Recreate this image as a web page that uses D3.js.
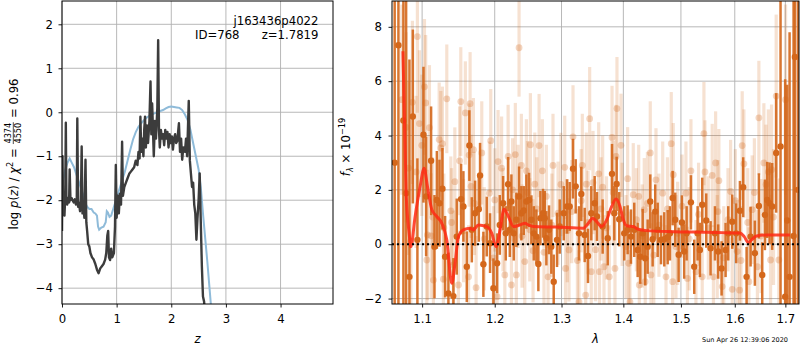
<!DOCTYPE html>
<html>
<head>
<meta charset="utf-8">
<script src="https://cdn.jsdelivr.net/npm/d3@7"></script>
<style>
  body { margin: 0; background: #fff; }
  svg { font-family: "DejaVu Sans", sans-serif; }
  .axis text { font-size: 11.7px; fill: #000; font-family: "DejaVu Sans", sans-serif; }
  .axis line { stroke: #000; stroke-width: 0.9; }
  .axis path { display: none; }
  .grid line { stroke: #b0b0b0; stroke-width: 0.9; }
</style>
</head>
<body>
<svg id="chart" width="800" height="350"></svg>
<script>
// ---- p(z) panel ----
const zTicks = [0, 1, 2, 3, 4];
const pzTicks = [-4, -3, -2, -1, 0, 1, 2];

// log p(z) (dark curve)
const pzZ = [0.000, 0.010, 0.020, 0.030, 0.045, 0.060, 0.070, 0.080, 0.095, 0.110, 0.130, 0.140, 0.155, 0.175, 0.195, 0.215, 0.235, 0.255, 0.270, 0.280,
  0.295, 0.310, 0.330, 0.345, 0.360, 0.375, 0.390, 0.410, 0.430, 0.445, 0.460, 0.480, 0.500, 0.520, 0.550, 0.580, 0.610, 0.640, 0.670, 0.700,
  0.730, 0.760, 0.790, 0.810, 0.830, 0.845, 0.860, 0.880, 0.900, 0.920, 0.950, 0.970, 0.985, 1.000, 1.020, 1.040, 1.060, 1.080, 1.100, 1.115,
  1.140, 1.170, 1.200, 1.230, 1.260, 1.290, 1.320, 1.350, 1.380, 1.400, 1.420, 1.435, 1.450, 1.470, 1.490, 1.505, 1.520, 1.535, 1.555, 1.575,
  1.600, 1.620, 1.635, 1.650, 1.665, 1.680, 1.700, 1.720, 1.745, 1.760, 1.775, 1.790, 1.810, 1.830, 1.850, 1.870, 1.890, 1.910, 1.930, 1.950,
  1.970, 1.990, 2.010, 2.030, 2.050, 2.070, 2.090, 2.110, 2.140, 2.160, 2.180, 2.200, 2.220, 2.250, 2.270, 2.290, 2.320, 2.340, 2.360, 2.380,
  2.400, 2.420, 2.440, 2.460, 2.480, 2.500, 2.520, 2.540, 2.560, 2.580, 2.600, 2.620];
const pzLog = [-2.70, -1.00, -2.30, -2.20, -2.35, -1.90, -0.24, -2.00, -2.10, -1.95, -2.05, -1.30, -2.00, -1.95, -2.00, -2.05, -1.98, -2.10, -2.05, -0.14,
  -2.15, -2.05, -2.25, -2.10, -0.78, -2.30, -2.10, -2.40, -1.08, -2.50, -2.70, -3.00, -3.05, -3.20, -3.30, -3.35, -3.45, -3.58, -3.66, -3.55,
  -3.50, -3.45, -3.35, -3.20, -2.80, -2.70, -3.30, -3.36, -3.10, -3.30, -3.20, -2.60, -1.20, -2.40, -1.90, -2.30, -1.85, -2.10, -0.67, -1.90,
  -1.70, -1.60, -1.50, -1.40, -1.35, -1.30, -1.25, -1.10, -1.20, -0.90, -1.05, -0.10, -0.90, -0.60, -1.00, -0.40, -0.10, -0.80, -0.30, -0.70,
  -0.20, 0.70, -0.50, 0.20, -0.40, -1.00, -0.20, -0.60, 0.10, 1.64, -0.40, -0.80, -0.40, -0.60, -0.50, -0.75, -0.40, -0.60, -0.45, -0.80,
  -0.50, -0.70, -0.55, -0.85, -0.60, -0.50, -0.70, -0.65, -0.25, -0.90, -0.60, -1.08, -0.80, -0.90, -0.60, -1.00, 0.26, -1.10, -1.40, -1.70,
  -1.60, -2.10, -2.30, -2.90, -2.40, -2.00, -1.39, -2.50, -3.50, -4.19, -4.30, -4.60];

// prior-weighted / template curve (blue)
const fitZ = [0.000, 0.020, 0.060, 0.100, 0.140, 0.180, 0.220, 0.260, 0.300, 0.340, 0.380, 0.420, 0.460, 0.500, 0.540, 0.580, 0.610, 0.640, 0.660, 0.680,
  0.720, 0.760, 0.800, 0.820, 0.840, 0.870, 0.900, 0.950, 1.000, 1.050, 1.100, 1.150, 1.200, 1.250, 1.300, 1.350, 1.400, 1.450, 1.500, 1.550,
  1.600, 1.650, 1.700, 1.750, 1.800, 1.850, 1.900, 1.950, 2.000, 2.050, 2.100, 2.150, 2.200, 2.250, 2.300, 2.350, 2.400, 2.450, 2.500, 2.540,
  2.580, 2.620, 2.660, 2.700, 2.730];
const fitLog = [-1.70, -1.55, -1.30, -1.15, -1.05, -1.15, -1.25, -1.40, -1.55, -1.70, -1.85, -2.05, -2.15, -2.20, -2.20, -2.28, -2.30, -2.35, -2.60, -2.67,
  -2.62, -2.60, -2.50, -2.25, -2.28, -2.38, -2.35, -2.15, -1.95, -1.75, -1.55, -1.35, -1.10, -0.85, -0.62, -0.45, -0.33, -0.25, -0.18, -0.12,
  -0.08, -0.05, -0.02, 0.00, 0.03, 0.05, 0.09, 0.12, 0.13, 0.12, 0.11, 0.10, 0.05, -0.05, -0.18, -0.40, -0.70, -1.00, -1.30, -1.70,
  -2.30, -2.85, -3.40, -4.00, -4.45];

// ---- spectrum panel ----
const lamTicks = [1.1, 1.2, 1.3, 1.4, 1.5, 1.6, 1.7];
const fluxTicks = [-2, 0, 2, 4, 6, 8];

// [lambda (um), flux, error] : main beam
const specDark = [
  [1.0644, 3.0, 12], [1.0692, 7.32, 10], [1.0756, 4.55, 9], [1.0791, 1.88, 8], [1.0834, -1.20, 8], [1.0878, 4.70, 3.2],
  [1.0938, 0.16, 3.0], [1.1018, 4.03, 2.5], [1.1053, 1.76, 2.2], [1.1119, 3.07, 2.0], [1.1164, -0.09, 1.9], [1.1196, 1.63, 1.8],
  [1.1231, 1.51, 1.6], [1.1271, 2.04, 1.5], [1.1307, -0.46, 1.5], [1.1352, -1.81, 1.5], [1.1420, -1.91, 1.4], [1.1466, 0.28, 1.4],
  [1.1526, 1.66, 1.3], [1.1558, 1.39, 1.3], [1.1605, -0.83, 1.3], [1.1641, 3.63, 1.3], [1.1675, 0.53, 1.2], [1.1721, 1.14, 1.2],
  [1.1773, 1.29, 1.2], [1.1791, 2.53, 1.2], [1.1838, -0.74, 1.2], [1.1886, 0.65, 1.1], [1.1933, 0.04, 1.1], [1.1981, -1.62, 1.1],
  [1.2034, -0.70, 1.1], [1.2073, 0.71, 1.1], [1.2121, 1.51, 1.0], [1.2160, 0.40, 1.0], [1.2194, 2.21, 1.0], [1.2219, 0.53, 1.0],
  [1.2242, 1.57, 1.0], [1.2277, 0.40, 1.0], [1.2315, 0.90, 1.0], [1.2355, 1.76, 1.1], [1.2389, 1.14, 1.0], [1.2425, 1.24, 0.9],
  [1.2464, 1.57, 1.0], [1.2504, 1.63, 1.0], [1.2539, 0.90, 0.9], [1.2575, 0.40, 1.0], [1.2614, 0.28, 1.0], [1.2644, -0.73, 1.0],
  [1.2675, 0.96, 1.0], [1.2716, 1.14, 0.9], [1.2741, 0.96, 1.0], [1.2766, 0.22, 1.0], [1.2807, 0.53, 0.9], [1.2842, -0.09, 1.0],
  [1.2879, -1.38, 1.0], [1.2930, 0.16, 1.0], [1.2972, 0.65, 1.0], [1.3035, 1.14, 1.0], [1.3086, 1.39, 1.0], [1.3128, 1.39, 0.9],
  [1.3180, 2.78, 1.1], [1.3223, 2.13, 1.0], [1.3275, 0.40, 1.0], [1.3312, 1.85, 1.0], [1.3366, 0.34, 1.0], [1.3419, -0.43, 1.0],
  [1.3472, 1.14, 1.0], [1.3527, 1.51, 1.0], [1.3564, 1.02, 0.9], [1.3657, 0.65, 1.0], [1.3740, 0.22, 1.0], [1.3811, 2.59, 1.1],
  [1.3849, 1.14, 1.0], [1.3888, 2.22, 1.0], [1.3931, 0.92, 1.0], [1.4015, 0.40, 1.0], [1.4072, 0.53, 0.9], [1.4128, 0.28, 1.0],
  [1.4184, 0.53, 1.0], [1.4242, -0.21, 1.0], [1.4287, -0.46, 1.0], [1.4328, 0.40, 0.9], [1.4372, -0.52, 1.0], [1.4414, -0.09, 1.0],
  [1.4459, 1.57, 1.0], [1.4500, 0.18, 1.0], [1.4545, 1.20, 1.0], [1.4588, 0.53, 1.0], [1.4646, 0.16, 0.9], [1.4704, 0.18, 1.0],
  [1.4764, 0.26, 1.0], [1.4804, 0.40, 1.0], [1.4852, 1.70, 1.0], [1.4898, 0.90, 1.0], [1.4959, -0.39, 1.0], [1.5018, 0.80, 1.0],
  [1.5059, -0.27, 1.0], [1.5103, 0.40, 1.0], [1.5181, 1.54, 1.0], [1.5241, -0.83, 1.0], [1.5303, 0.40, 1.0], [1.5345, -0.21, 1.0],
  [1.5388, 1.45, 1.0], [1.5462, 0.87, 1.0], [1.5543, -0.15, 1.0], [1.5624, 0.40, 1.0], [1.5685, -0.27, 1.0], [1.5749, -0.89, 1.0],
  [1.5825, -0.21, 1.0], [1.5875, 0.40, 1.0], [1.5951, 0.83, 1.0], [1.6027, 0.40, 1.1], [1.6099, 1.23, 1.1], [1.6162, 2.10, 1.1],
  [1.6228, -1.20, 1.1], [1.6306, 0.28, 1.1], [1.6390, -0.33, 1.2], [1.6469, 1.41, 1.2], [1.6535, -1.13, 1.2], [1.6588, 1.08, 1.3],
  [1.6634, 1.63, 1.4], [1.6681, 1.51, 1.5], [1.6733, 1.39, 1.6], [1.6814, 3.36, 2.2], [1.6902, 3.60, 6], [1.6996, -1.93, 8],
  [1.7037, 0.87, 5], [1.7086, -1.20, 9], [1.7168, 0.30, 10], [1.7195, 6.89, 10], [1.7257, 2.0, 10]
];

// [lambda (um), flux, error] : other beams (faint)
const specLight = [
  [1.0736, 5.32, 3.5], [1.0791, 4.30, 3.5], [1.0821, 2.80, 3.2], [1.0852, 0.10, 3.0], [1.0873, 5.22, 3.0], [1.0921, 2.66, 2.8],
  [1.0938, 7.64, 2.8], [1.0965, 4.44, 2.7], [1.0996, 3.64, 2.6], [1.1031, 5.79, 2.5], [1.1047, 5.20, 2.5], [1.1062, -0.58, 2.4],
  [1.1070, 0.34, 2.4], [1.1097, 4.29, 2.3], [1.1119, 0.31, 2.3], [1.1140, 1.00, 2.2], [1.1150, -1.32, 2.2], [1.1227, 3.85, 2.1],
  [1.1249, 3.54, 2.1], [1.1271, 3.70, 2.1], [1.1284, -1.29, 2.0], [1.1290, 0.60, 2.0], [1.1330, 5.35, 2.0], [1.1385, 1.23, 2.0],
  [1.1395, 0.80, 2.0], [1.1420, -0.76, 2.0], [1.1440, 2.30, 2.0], [1.1489, -1.50, 2.0], [1.1505, 3.07, 2.0], [1.1522, 5.25, 2.0],
  [1.1560, 0.50, 1.9], [1.1585, 4.83, 1.9], [1.1630, -1.20, 1.9], [1.1637, 3.28, 1.9], [1.1651, 5.17, 1.9], [1.1665, 2.13, 1.9],
  [1.1697, 3.48, 1.9], [1.1710, 1.50, 1.9], [1.1735, -1.60, 1.9], [1.1815, 3.36, 1.9], [1.1850, 0.20, 1.9], [1.1923, 1.88, 1.9],
  [1.1943, 3.81, 1.9], [1.1980, -0.50, 1.9], [1.2001, 1.63, 1.9], [1.2034, -1.93, 1.9], [1.2048, 3.04, 1.9], [1.2099, 2.80, 1.9],
  [1.2120, 0.90, 1.9], [1.2146, -1.13, 1.9], [1.2194, 3.23, 1.9], [1.2242, -1.50, 1.9], [1.2260, 2.00, 1.9], [1.2300, 3.30, 1.9],
  [1.2315, -1.13, 1.9], [1.2341, 1.76, 1.9], [1.2355, 7.23, 1.8], [1.2389, 2.90, 1.9], [1.2400, 0.30, 1.9], [1.2440, -0.64, 1.9],
  [1.2464, 2.70, 1.9], [1.2480, 1.90, 1.9], [1.2515, 0.53, 1.9], [1.2524, 3.66, 1.9], [1.2564, -0.24, 1.9], [1.2590, 2.21, 1.9],
  [1.2620, 1.30, 1.9], [1.2655, 3.63, 1.9], [1.2705, 2.70, 1.9], [1.2730, -0.30, 1.9], [1.2766, 1.76, 1.9], [1.2792, -1.20, 1.9],
  [1.2850, 0.70, 1.9], [1.2868, 2.90, 1.9], [1.2946, 1.14, 1.9], [1.2990, 2.20, 1.9], [1.3050, 2.83, 1.9], [1.3063, -0.89, 1.9],
  [1.3090, 0.50, 1.9], [1.3117, -0.21, 1.9], [1.3160, 1.20, 1.9], [1.3180, 3.95, 1.9], [1.3250, -0.60, 1.9], [1.3275, -2.12, 1.9],
  [1.3310, 1.60, 1.9], [1.3328, 2.90, 1.9], [1.3382, -1.87, 1.9], [1.3392, 2.21, 1.9], [1.3420, 0.80, 1.9], [1.3446, 4.62, 1.9],
  [1.3472, -1.01, 1.9], [1.3500, 2.27, 1.9], [1.3540, -0.20, 1.9], [1.3592, 2.59, 1.9], [1.3605, -1.01, 1.9], [1.3630, 1.30, 1.9],
  [1.3657, 2.10, 1.9], [1.3679, -0.83, 1.9], [1.3720, 0.60, 1.9], [1.3766, -1.20, 1.9], [1.3811, 3.93, 1.9], [1.3830, 1.90, 1.9],
  [1.3860, -0.89, 1.9], [1.3877, 3.23, 1.9], [1.3893, 4.99, 1.9], [1.3960, 3.64, 1.9], [1.3980, 1.10, 1.9], [1.4044, -0.09, 1.9],
  [1.4072, 2.41, 1.9], [1.4090, -0.70, 1.9], [1.4111, -2.12, 1.9], [1.4167, 1.82, 1.9], [1.4220, 0.90, 1.9], [1.4260, 1.76, 1.9],
  [1.4270, -1.50, 1.9], [1.4320, 0.30, 1.9], [1.4355, 1.27, 1.9], [1.4372, -1.38, 1.9], [1.4410, 1.50, 1.9], [1.4459, 3.36, 1.9],
  [1.4471, -1.13, 1.9], [1.4520, -0.40, 1.9], [1.4558, 2.37, 1.9], [1.4610, 0.70, 1.9], [1.4676, 1.88, 1.9], [1.4734, -1.20, 1.9],
  [1.4760, 1.30, 1.9], [1.4827, 3.70, 1.9], [1.4852, -1.38, 1.9], [1.4863, 2.56, 1.9], [1.4911, -0.09, 1.9], [1.4940, 0.40, 1.9],
  [1.5020, 1.40, 1.9], [1.5090, 1.88, 1.9], [1.5117, -1.26, 1.9], [1.5150, 0.20, 1.9], [1.5181, 2.70, 1.9], [1.5272, -1.01, 1.9],
  [1.5320, 1.10, 1.9], [1.5388, -1.20, 1.9], [1.5419, 4.07, 1.9], [1.5438, 2.66, 1.9], [1.5500, 0.60, 1.9], [1.5573, 2.53, 1.9],
  [1.5596, -1.20, 1.9], [1.5637, 2.99, 1.9], [1.5667, -0.09, 1.9], [1.5680, 1.20, 1.9], [1.5698, 2.34, 1.9], [1.5761, -1.56, 1.9],
  [1.5790, -0.50, 1.9], [1.5870, 0.90, 1.9], [1.5920, 1.94, 1.9], [1.5951, -1.66, 1.9], [1.6010, 1.60, 1.9], [1.6047, -0.27, 1.9],
  [1.6093, -1.69, 2.0], [1.6120, -0.60, 2.0], [1.6143, 3.63, 2.0], [1.6176, 2.96, 2.0], [1.6250, 0.80, 2.0], [1.6273, -1.38, 2.0],
  [1.6337, 1.27, 2.0], [1.6380, 1.90, 2.0], [1.6440, -0.83, 2.1], [1.6469, 4.65, 2.1], [1.6510, 0.30, 2.1], [1.6568, 2.99, 2.2],
  [1.6610, 2.20, 2.2], [1.6657, 2.66, 2.3], [1.6701, -0.58, 2.4], [1.6721, 2.74, 2.4], [1.6760, 1.00, 2.5], [1.6814, 5.45, 3.0],
  [1.6868, -0.58, 3.0], [1.7004, 5.32, 3.5]
];

// best-fit model
const modelLam = [1.0750, 1.0791, 1.0830, 1.0852, 1.0908, 1.0974, 1.1026, 1.1070, 1.1129, 1.1195, 1.1263, 1.1330, 1.1398, 1.1443, 1.1489,
  1.1558, 1.1651, 1.1697, 1.1767, 1.1886, 1.1958, 1.2019, 1.2077, 1.2135, 1.2198, 1.2271, 1.2370, 1.2444, 1.2493, 1.2568, 1.2925,
  1.3344, 1.3424, 1.3495, 1.3560, 1.3641, 1.3723, 1.3806, 1.3877, 1.3944, 1.3999, 1.4056, 1.4168, 1.4253, 1.4397, 1.4863, 1.5470,
  1.6099, 1.6182, 1.6260, 1.6326, 1.6424, 1.6622, 1.7092];
const modelFlux = [7.10, 1.90, 0.40, -0.09, 1.02, 2.13, 2.80, 2.13, 1.27, 1.02, 0.77, 0.16, -1.44, -0.70, 0.28,
  0.53, 0.59, 0.53, 0.71, 0.65, 0.40, -0.09, 0.53, 1.29, 1.02, 0.65, 0.71, 0.77, 0.71, 0.65, 0.63,
  0.59, 0.77, 0.96, 0.83, 0.65, 0.90, 1.39, 1.66, 1.39, 0.90, 0.68, 0.65, 0.55, 0.50, 0.46, 0.44,
  0.41, 0.28, 0.06, 0.16, 0.30, 0.34, 0.34];

// ---- layout ----
const svg = d3.select("#chart");
const L = { x0: 62, x1: 333, y0: 1, y1: 304 };
const R = { x0: 392, x1: 799, y0: 1, y1: 304 };
const orange = "#d4671b";
const nb = "\u00a0";

const xZ = d3.scaleLinear().domain([0, 4.96]).range([L.x0, L.x1]);
const yP = d3.scaleLinear().domain([-4.36, 2.53]).range([L.y1, L.y0]);
const xLam = d3.scaleLog().domain([1.061, 1.728]).range([R.x0, R.x1]);
const yF = d3.scaleLinear().domain([-2.2, 8.95]).range([R.y1, R.y0]);

const defs = svg.append("defs");
[["clipL", L], ["clipR", R]].forEach(([id, b]) => {
  defs.append("clipPath").attr("id", id).append("rect")
    .attr("x", b.x0).attr("y", b.y0).attr("width", b.x1 - b.x0).attr("height", b.y1 - b.y0);
});

function grid(b, xs, xv, ys, yv) {
  const g = svg.append("g").attr("class", "grid");
  g.selectAll(".gx").data(xv).join("line")
    .attr("x1", d => xs(d)).attr("x2", d => xs(d)).attr("y1", b.y0).attr("y2", b.y1);
  g.selectAll(".gy").data(yv).join("line")
    .attr("y1", d => ys(d)).attr("y2", d => ys(d)).attr("x1", b.x0).attr("x2", b.x1);
}
grid(L, xZ, zTicks, yP, pzTicks);
grid(R, xLam, lamTicks, yF, fluxTicks);

// ---- left panel curves ----
const gL = svg.append("g").attr("clip-path", "url(#clipL)");
const line = d3.line().x(d => xZ(d[0])).y(d => yP(d[1]));
gL.append("path")
  .datum(d3.zip(fitZ, fitLog))
  .attr("d", line)
  .attr("fill", "none").attr("stroke", "#8fbbd9").attr("stroke-width", 2);
gL.append("path")
  .datum(d3.zip(pzZ, pzLog))
  .attr("d", line)
  .attr("fill", "none").attr("stroke", "#3c3c3c").attr("stroke-width", 2.4)
  .attr("stroke-linejoin", "round");

// ---- right panel spectrum ----
const gR = svg.append("g").attr("clip-path", "url(#clipR)");

gR.append("g").selectAll("line").data(specLight).join("line")
  .attr("x1", d => xLam(d[0])).attr("x2", d => xLam(d[0]))
  .attr("y1", d => yF(d[1] - d[2])).attr("y2", d => yF(d[1] + d[2]))
  .attr("stroke", orange).attr("stroke-opacity", 0.2).attr("stroke-width", 3.2);
gR.append("g").selectAll("circle").data(specLight).join("circle")
  .attr("cx", d => xLam(d[0])).attr("cy", d => yF(d[1])).attr("r", 3.4)
  .attr("fill", orange).attr("fill-opacity", 0.28);

gR.append("g").selectAll("line").data(specDark).join("line")
  .attr("x1", d => xLam(d[0])).attr("x2", d => xLam(d[0]))
  .attr("y1", d => yF(d[1] - d[2])).attr("y2", d => yF(d[1] + d[2]))
  .attr("stroke", orange).attr("stroke-opacity", 0.9).attr("stroke-width", 2.5);
gR.append("g").selectAll("circle").data(specDark).join("circle")
  .attr("cx", d => xLam(d[0])).attr("cy", d => yF(d[1])).attr("r", 3.2)
  .attr("fill", orange);

gR.append("path")
  .datum(d3.zip(modelLam, modelFlux))
  .attr("d", d3.line().curve(d3.curveMonotoneX).x(d => xLam(d[0])).y(d => yF(d[1])))
  .attr("fill", "none").attr("stroke", "#ff2a14").attr("stroke-opacity", 0.85)
  .attr("stroke-width", 3).attr("stroke-linejoin", "round");

gR.append("line")
  .attr("x1", R.x0).attr("x2", R.x1).attr("y1", yF(0)).attr("y2", yF(0))
  .attr("stroke", "#000").attr("stroke-width", 2).attr("stroke-dasharray", "2,3");

// ---- axes ----
const fmt = d3.format("");
svg.append("g").attr("class", "axis").attr("transform", `translate(0,${L.y1})`)
  .call(d3.axisBottom(xZ).tickValues(zTicks).tickSize(3.5).tickPadding(7).tickFormat(fmt));
svg.append("g").attr("class", "axis").attr("transform", `translate(${L.x0},0)`)
  .call(d3.axisLeft(yP).tickValues(pzTicks).tickSize(3.5).tickPadding(5.5).tickFormat(fmt));
svg.append("g").attr("class", "axis").attr("transform", `translate(0,${R.y1})`)
  .call(d3.axisBottom(xLam).tickValues(lamTicks).tickSize(3.5).tickPadding(7).tickFormat(d3.format(".1f")));
svg.append("g").attr("class", "axis").attr("transform", `translate(${R.x0},0)`)
  .call(d3.axisLeft(yF).tickValues(fluxTicks).tickSize(3.5).tickPadding(6.5).tickFormat(fmt));

[L, R].forEach(b => {
  svg.append("rect").attr("x", b.x0).attr("y", b.y0)
    .attr("width", b.x1 - b.x0).attr("height", b.y1 - b.y0)
    .attr("fill", "none").attr("stroke", "#000").attr("stroke-width", 1);
});

// ---- labels ----
svg.append("text").attr("x", 318.5).attr("y", 24.5).attr("text-anchor", "end")
  .attr("font-size", 11.7).text("j163436p4022");
svg.append("text").attr("x", 195).attr("y", 38.5).attr("font-size", 11.7).text("ID=768");
svg.append("text").attr("x", 318.5).attr("y", 38.5).attr("text-anchor", "end")
  .attr("font-size", 11.7).text("z=1.7819");

svg.append("text").attr("x", (L.x0 + L.x1) / 2).attr("y", 343).attr("text-anchor", "middle")
  .attr("font-size", 11.7).attr("font-style", "italic").text("z");
svg.append("text").attr("x", (R.x0 + R.x1) / 2).attr("y", 343).attr("text-anchor", "middle")
  .attr("font-size", 11.7).attr("font-style", "italic").text("λ");

svg.append("text").attr("x", 788).attr("y", 341.5).attr("text-anchor", "end")
  .attr("font-size", 6.5).text("Sun Apr 26 12:39:06 2020");

// left y label with stacked fraction
const yl = svg.append("g").attr("transform", "translate(17.5,154) rotate(-90)");
const t1 = yl.append("text").attr("font-size", 11.7);
t1.append("tspan").text("log" + nb);
t1.append("tspan").attr("font-style", "italic").text("p");
t1.append("tspan").text("(");
t1.append("tspan").attr("font-style", "italic").text("z");
t1.append("tspan").text(")" + nb + "/" + nb);
t1.append("tspan").attr("font-style", "italic").text("χ");
t1.append("tspan").attr("font-size", 8.2).attr("dy", -5).text("2");
t1.append("tspan").attr("dy", 5).text(nb + "=" + nb);
const num = yl.append("text").attr("font-size", 8.2).attr("text-anchor", "middle").text("4374");
const den = yl.append("text").attr("font-size", 8.2).attr("text-anchor", "middle").text("4550");
const t3 = yl.append("text").attr("font-size", 11.7).text(nb + "=" + nb + "0.96");
const w1 = t1.node().getComputedTextLength();
const wf = Math.max(num.node().getComputedTextLength(), den.node().getComputedTextLength()) + 2;
const w3 = t3.node().getComputedTextLength();
const x0 = -(w1 + wf + w3) / 2;
t1.attr("x", x0);
num.attr("x", x0 + w1 + wf / 2).attr("y", -6.5);
den.attr("x", x0 + w1 + wf / 2).attr("y", 3.5);
yl.append("line").attr("x1", x0 + w1 + 0.5).attr("x2", x0 + w1 + wf - 0.5)
  .attr("y1", -4.2).attr("y2", -4.2).attr("stroke", "#000").attr("stroke-width", 0.7);
t3.attr("x", x0 + w1 + wf);

// right y label
const yr = svg.append("text").attr("transform", "translate(350,147) rotate(-90)")
  .attr("text-anchor", "middle").attr("font-size", 11.7);
yr.append("tspan").attr("font-style", "italic").text("f");
yr.append("tspan").attr("font-style", "italic").attr("font-size", 8.2).attr("dy", 2.5).text("λ");
yr.append("tspan").attr("dy", -2.5).text(nb + "×" + nb + "10");
yr.append("tspan").attr("font-size", 8.2).attr("dy", -5).text("−19");
</script>
</body>
</html>
